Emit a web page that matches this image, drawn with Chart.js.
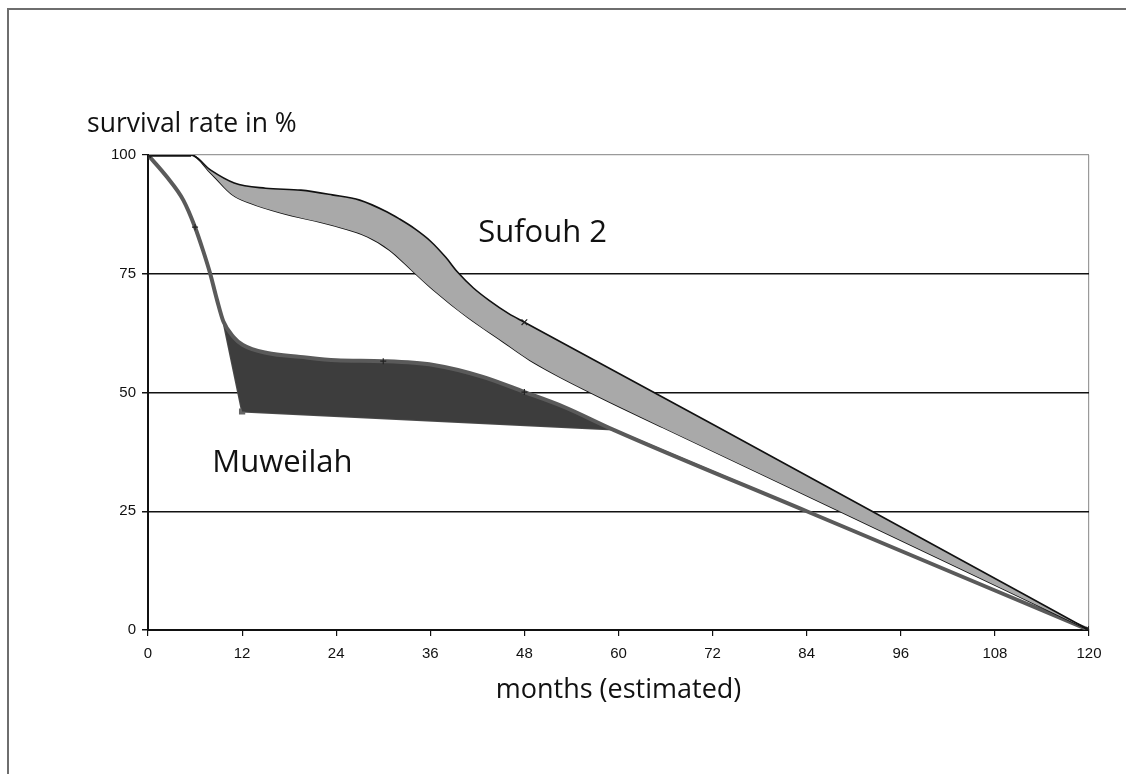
<!DOCTYPE html>
<html>
<head>
<meta charset="utf-8">
<title>Survival rate</title>
<script src="https://cdn.jsdelivr.net/npm/chart.js@4.4.1/dist/chart.umd.min.js"></script>
<style>
    html, body { margin: 0; padding: 0; background: #fff; overflow: hidden; }
    #wrap { position: relative; width: 1126px; height: 774px; }
    #frame {
        position: absolute; left: 7px; top: 8px; width: 1400px; height: 1000px;
        border-left: 2px solid #6e6e6e; border-top: 2px solid #6e6e6e;
    }
    canvas { position: absolute; left: 0; top: 0; }
</style>
</head>
<body>
<div id="wrap">
    <div id="frame"></div>
    <canvas id="survivalChart" width="1126" height="774"></canvas>
</div>
<script>
// values (months, survival rate in %)
const monthTicks = [0, 12, 24, 36, 48, 60, 72, 84, 96, 108, 120];
const rateTicks = [0, 25, 50, 75, 100];

const sufouhUpperMonths = [0, 5.5, 8, 11, 15, 19.5, 23.5, 27, 30.5, 32, 34, 36, 38, 39.5, 41.5, 43.5, 46, 48, 72, 96, 120];
const sufouhUpperRate   = [100, 100, 96.8, 94.1, 93, 92.6, 91.6, 90.5, 88, 86.6, 84.5, 81.9, 78.4, 75.3, 72, 69.4, 66.6, 64.8, 43.3, 21.7, 0];

const sufouhLowerMonths = [0, 5.5, 8, 10.8, 13, 17, 23.5, 28, 30.8, 33.8, 36.4, 40.7, 45, 48.7, 56.4, 65.7, 88.2, 120];
const sufouhLowerRate   = [100, 100, 96.2, 91.6, 89.9, 87.8, 85.2, 82.8, 80, 75.5, 71.6, 65.9, 61, 56.8, 50, 42.6, 25, 0];

const muweilahUpperMonths = [0, 2.4, 4.5, 6, 7, 7.9, 8.8, 9.6, 10.9, 12.1, 15.2, 19.4, 24, 30, 36.4, 42.7, 48, 53, 59.3, 84, 120];
const muweilahUpperRate   = [100, 95.4, 90.5, 84.8, 80, 75.2, 69.5, 65, 61.7, 60, 58.3, 57.5, 56.8, 56.6, 55.8, 53.3, 50.1, 47, 42.2, 25, 0];

const muweilahLowerMonths = [9.6, 12, 59.3, 84, 120];
const muweilahLowerRate   = [65, 46, 42.2, 25, 0];

// months where the original shows a small marker
const sufouhMarks = [48];
const muweilahMarks = [6, 30, 48];
const endMarks = [0, 120];

document.addEventListener('DOMContentLoaded', function() {
    drawChart();
});

function toPoints(months, rates) {
    return months.map((m, i) => ({ x: m, y: rates[i] }));
}

function drawChart() {
    const ctx = document.getElementById('survivalChart').getContext('2d');

    // text that sits around the plot
    const labelsPlugin = {
        id: 'labels',
        afterDraw(chart) {
            const c = chart.ctx;
            const x = chart.scales.x;
            const y = chart.scales.y;
            const area = chart.chartArea;
            c.save();
            c.fillStyle = '#111';
            c.textBaseline = 'alphabetic';

            c.font = '26.5px "Open Sans"';
            c.textAlign = 'left';
            c.fillText('survival rate in %', area.left - 61, area.top - 23);

            c.font = '31px "Open Sans"';
            c.fillText('Sufouh 2', x.getPixelForValue(42.1), y.getPixelForValue(81.7));
            c.fillText('Muweilah', x.getPixelForValue(8.2), y.getPixelForValue(33.3));

            c.font = '27px "Open Sans"';
            c.textAlign = 'center';
            c.fillText('months (estimated)', x.getPixelForValue(60), area.bottom + 68);
            c.restore();
        }
    };

    // the flat start of the Sufouh curves is drawn heavier
    const flatStart = c => c.p1.parsed.x <= 5.5 ? 3 : 1.6;

    new Chart(ctx, {
        type: 'line',
        data: {
            datasets: [
                {
                    label: 'Sufouh 2 upper',
                    data: toPoints(sufouhUpperMonths, sufouhUpperRate),
                    borderColor: '#111',
                    borderWidth: 1.6,
                    segment: { borderWidth: flatStart },
                    backgroundColor: '#a9a9a9',
                    fill: 1,
                    cubicInterpolationMode: 'monotone',
                    pointStyle: c => endMarks.includes(c.raw.x) ? 'star' : 'crossRot',
                    pointRadius: c => (sufouhMarks.includes(c.raw.x) || endMarks.includes(c.raw.x)) ? 4 : 0,
                    pointBorderColor: '#222',
                    pointBorderWidth: 1.2
                },
                {
                    label: 'Sufouh 2 lower',
                    data: toPoints(sufouhLowerMonths, sufouhLowerRate),
                    borderColor: '#111',
                    borderWidth: 1.6,
                    segment: { borderWidth: flatStart },
                    fill: false,
                    cubicInterpolationMode: 'monotone',
                    pointRadius: 0
                },
                {
                    label: 'Muweilah upper',
                    data: toPoints(muweilahUpperMonths, muweilahUpperRate),
                    borderColor: '#5a5a5a',
                    borderWidth: 4,
                    backgroundColor: '#3d3d3d',
                    fill: 3,
                    cubicInterpolationMode: 'monotone',
                    pointStyle: c => endMarks.includes(c.raw.x) ? 'star' : 'cross',
                    pointRadius: c => muweilahMarks.includes(c.raw.x) ? 3 : (endMarks.includes(c.raw.x) ? 4 : 0),
                    pointBorderColor: '#222',
                    pointBorderWidth: 1.2
                },
                {
                    label: 'Muweilah lower',
                    data: toPoints(muweilahLowerMonths, muweilahLowerRate),
                    borderColor: '#4a4a4a',
                    borderWidth: 2,
                    fill: false,
                    tension: 0,
                    pointStyle: 'rect',
                    pointRadius: c => c.raw.x === 12 ? 3 : 0,
                    pointBackgroundColor: '#666',
                    pointBorderColor: '#666'
                }
            ]
        },
        options: {
            responsive: false,
            animation: false,
            devicePixelRatio: 1,
            layout: {
                padding: { top: 155, right: 37, left: 0, bottom: 0 }
            },
            plugins: {
                legend: { display: false },
                tooltip: { enabled: false }
            },
            scales: {
                x: {
                    type: 'linear',
                    min: 0,
                    max: 120,
                    afterFit: s => { s.height = 144; },
                    afterBuildTicks: s => { s.ticks = monthTicks.map(v => ({ value: v })); },
                    ticks: {
                        autoSkip: false,
                        maxRotation: 0,
                        padding: 9,
                        color: '#111',
                        font: { family: '"Liberation Sans", Arial, sans-serif', size: 15 }
                    },
                    grid: {
                        drawOnChartArea: true,
                        color: c => (c.tick && c.tick.value === 120) ? '#9a9a9a' : 'rgba(0,0,0,0)',
                        tickColor: '#111',
                        tickLength: 6,
                        lineWidth: 1.2
                    },
                    border: { color: '#111', width: 2 }
                },
                y: {
                    min: 0,
                    max: 100,
                    z: 1,
                    afterFit: s => { s.width = 148; },
                    afterBuildTicks: s => { s.ticks = rateTicks.map(v => ({ value: v })); },
                    ticks: {
                        padding: 6,
                        color: '#111',
                        font: { family: '"Liberation Sans", Arial, sans-serif', size: 15 }
                    },
                    grid: {
                        color: c => (c.tick && c.tick.value === 100) ? '#9a9a9a' : '#111',
                        tickColor: '#111',
                        tickLength: 6,
                        lineWidth: c => (c.tick && c.tick.value === 100) ? 1.2 : 1.5
                    },
                    border: { color: '#111', width: 2 }
                }
            }
        },
        plugins: [labelsPlugin]
    });
}
</script>
</body>
</html>
